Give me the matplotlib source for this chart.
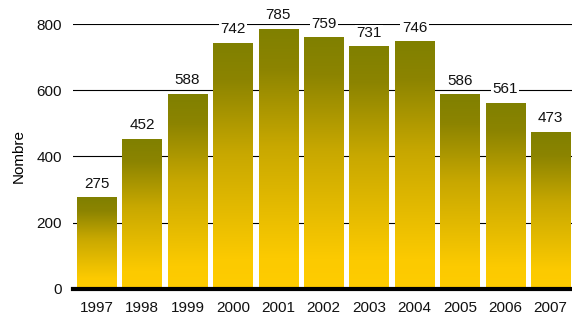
import numpy as np
import matplotlib
matplotlib.use("Agg")
import matplotlib.pyplot as plt
from matplotlib.colors import LinearSegmentedColormap

years = ['1997', '1998', '1999', '2000', '2001', '2002', '2003', '2004', '2005', '2006', '2007']
counts = [275, 452, 588, 742, 785, 759, 731, 746, 586, 561, 473]

plt.rcParams['font.family'] = ['Liberation Sans', 'DejaVu Sans']

fig = plt.figure(figsize=(5.72, 3.2), dpi=100)
ax = fig.add_axes([0.128, 0.097, 0.872, 0.828])

# olive at the top of each bar, gold at the bottom
cmap = LinearSegmentedColormap.from_list(
    'olivegold', [(0.0, '#FFCC00'), (0.12, '#FCCA00'), (0.55, '#C8A800'),
                  (0.85, '#8C8400'), (1.0, '#808000')])
grad = np.linspace(0, 1, 256).reshape(-1, 1)

width = 0.87
x = np.arange(len(years))
for xi, v in zip(x, counts):
    ax.imshow(grad, extent=[xi - width / 2, xi + width / 2, 0, v],
              origin='lower', aspect='auto', cmap=cmap, zorder=2,
              interpolation='bilinear')
    ax.text(xi, v + 42, str(v), ha='center', va='center', fontsize=11,
            color='#111111', zorder=4, clip_on=False,
            bbox=dict(facecolor='white', edgecolor='none', pad=1.0))

ax.set_xlim(-0.52, 10.47)
ax.set_ylim(0, 800)
ax.set_yticks([0, 200, 400, 600, 800])
ax.yaxis.grid(True, color='black', linewidth=0.8, zorder=0)
ax.set_axisbelow(True)
ax.set_xticks(x)
ax.set_xticklabels(years)
ax.tick_params(axis='both', length=0, labelsize=11, colors='#111111')
ax.tick_params(axis='x', pad=9)
ax.tick_params(axis='y', pad=8)
for s in ['top', 'right', 'left']:
    ax.spines[s].set_visible(False)
ax.spines['bottom'].set_linewidth(3)
ax.spines['bottom'].set_zorder(3)
ax.set_ylabel('Nombre', fontsize=11, labelpad=8)

fig.savefig('out.png', dpi=100)
